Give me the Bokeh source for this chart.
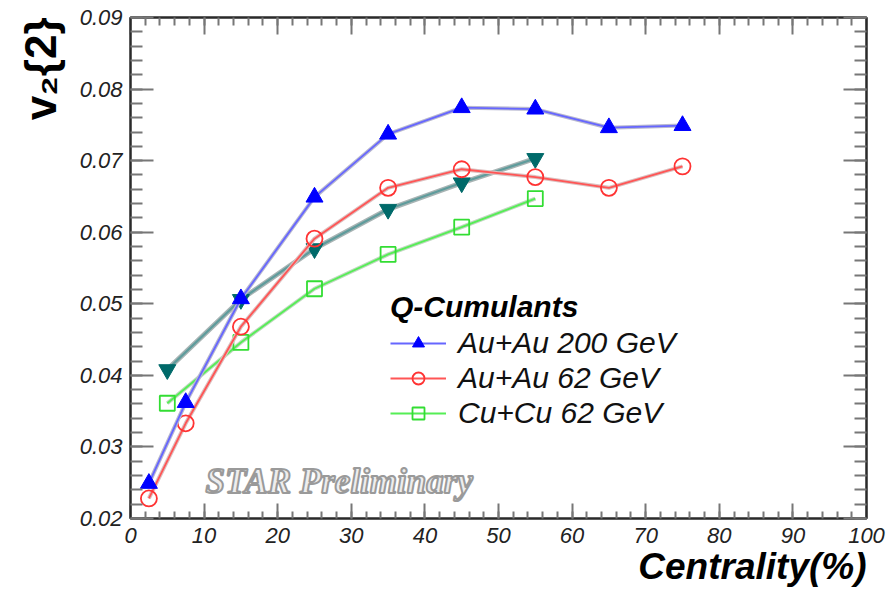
from bokeh.plotting import figure
from bokeh.models import (Range1d, FixedTicker, LinearAxis, Label, Legend, LegendItem,
                          PrintfTickFormatter, CustomJSTickFormatter, Title)
from bokeh.embed import file_html
from bokeh.resources import INLINE

# ---------------- data ----------------
cent_au200 = [2.5, 7.5, 15, 25, 35, 45, 55, 65, 75]
v2_au200 = [0.0249, 0.0362, 0.0507, 0.0649, 0.0737, 0.0774, 0.0772, 0.0746, 0.0749]

cent_au62 = [2.5, 7.5, 15, 25, 35, 45, 55, 65, 75]
v2_au62 = [0.0228, 0.0333, 0.0468, 0.0591, 0.0662, 0.0688, 0.0677, 0.0662, 0.0692]

cent_cu62 = [5, 15, 25, 35, 45, 55]
v2_cu62 = [0.0361, 0.0446, 0.0521, 0.0569, 0.0607, 0.0647]

cent_extra = [5, 15, 25, 35, 45, 55]
v2_extra = [0.0408, 0.0506, 0.0577, 0.0632, 0.0669, 0.0703]

x_major = [0, 10, 20, 30, 40, 50, 60, 70, 80, 90, 100]
x_minor = list(range(0, 101, 2))
y_major = [0.02, 0.03, 0.04, 0.05, 0.06, 0.07, 0.08, 0.09]
y_minor = [round(0.02 + 0.002 * i, 4) for i in range(36)]

labels = ["Au+Au 200 GeV", "Au+Au 62 GeV", "Cu+Cu 62 GeV"]
legend_title = "Q-Cumulants"
x_title = "Centrality(%)"
y_title = "v\u2082{2}"

# ---------------- layout ----------------
W, H = 888, 590
FL, FR, FT, FB = 130, 866, 17, 518
X0, X1, Y0, Y1 = 0, 100, 0.02, 0.09


def dx(px):
    return X0 + (px - FL) * (X1 - X0) / (FR - FL)


def dy(py):
    return Y0 + (FB - py) * (Y1 - Y0) / (FB - FT)


p = figure(width=W, height=H, x_range=Range1d(X0, X1), y_range=Range1d(Y0, Y1),
           output_backend="svg", toolbar_location=None,
           min_border_left=FL, min_border_right=W - FR,
           min_border_top=FT, min_border_bottom=H - FB)
p.background_fill_color = "white"
p.border_fill_color = "white"
p.outline_line_color = "#222222"
p.outline_line_width = 2
p.xgrid.visible = False
p.ygrid.visible = False

FONT = "Liberation Sans"


def style_axis(ax, major_in, minor_in):
    ax.axis_line_color = "#2a2a2a"
    ax.axis_line_width = 2
    ax.major_tick_in = major_in
    ax.major_tick_out = 0
    ax.minor_tick_in = minor_in
    ax.minor_tick_out = 0
    ax.major_tick_line_color = "#777777"
    ax.major_tick_line_width = 2
    ax.minor_tick_line_color = "#777777"
    ax.minor_tick_line_width = 2
    ax.major_label_text_font = FONT
    ax.major_label_text_font_style = "italic"
    ax.major_label_text_font_size = "22px"
    ax.major_label_text_color = "#222222"


xa = p.xaxis[0]
xa.ticker = FixedTicker(ticks=x_major, minor_ticks=x_minor)
style_axis(xa, 15, 7)
xa.major_label_standoff = 9

ya = p.yaxis[0]
ya.ticker = FixedTicker(ticks=y_major, minor_ticks=y_minor)
ya.formatter = PrintfTickFormatter(format="%.2f")
style_axis(ya, 23, 12)
ya.major_label_standoff = 8

blank = CustomJSTickFormatter(code="return ''")
top = LinearAxis(ticker=FixedTicker(ticks=x_major, minor_ticks=x_minor), formatter=blank)
style_axis(top, 17, 8)
top.major_label_text_font_size = "1px"
top.major_label_standoff = 0
p.add_layout(top, "above")

right = LinearAxis(ticker=FixedTicker(ticks=y_major, minor_ticks=y_minor), formatter=blank)
style_axis(right, 23, 12)
right.major_label_text_font_size = "1px"
right.major_label_standoff = 0
p.add_layout(right, "right")

# axis titles (ROOT style: aligned to the axis end)
p.add_layout(Title(text=x_title, align="right", text_font=FONT,
                   text_font_style="bold italic", text_font_size="37px",
                   text_color="black", standoff=-4), "below")
p.add_layout(Title(text=y_title, align="right", text_font=FONT,
                   text_font_style="bold", text_font_size="44px",
                   text_color="black", standoff=24), "left")

# ---------------- series ----------------
# teal inverted triangles (no legend entry)
p.line(cent_extra, v2_extra, line_color="#a8b4b4", line_width=5)
p.line(cent_extra, v2_extra, line_color="#5f9c9c", line_width=2.2)
p.scatter(cent_extra, v2_extra, marker="inverted_triangle", size=17,
          fill_color="#006a6a", line_color="#006a6a")

# green open squares
p.line(cent_cu62, v2_cu62, line_color="#c0d8c0", line_width=4)
l3 = p.line(cent_cu62, v2_cu62, line_color="#55ee55", line_width=1.8)
m3 = p.scatter(cent_cu62, v2_cu62, marker="square", size=15,
               fill_color=None, line_color="#33dd33", line_width=1.8)

# red open circles
p.line(cent_au62, v2_au62, line_color="#dcc0c0", line_width=4)
l2 = p.line(cent_au62, v2_au62, line_color="#ff5555", line_width=1.8)
m2 = p.scatter(cent_au62, v2_au62, marker="circle", size=16,
               fill_color=None, line_color="#ff3333", line_width=1.8)

# blue triangles
p.line(cent_au200, v2_au200, line_color="#b8b8d0", line_width=4)
l1 = p.line(cent_au200, v2_au200, line_color="#6666ff", line_width=1.8)
m1 = p.scatter(cent_au200, v2_au200, marker="triangle", size=17,
               fill_color="#0000ff", line_color="#0000ff")

legend = Legend(items=[LegendItem(label=labels[0], renderers=[l1, m1]),
                       LegendItem(label=labels[1], renderers=[l2, m2]),
                       LegendItem(label=labels[2], renderers=[l3, m3])],
                location=(260, 88), title=legend_title,
                title_text_font=FONT, title_text_font_style="bold italic",
                title_text_font_size="30px", title_text_color="black",
                title_standoff=2,
                label_text_font=FONT, label_text_font_style="italic",
                label_text_font_size="30px", label_text_color="#111111",
                glyph_width=56, glyph_height=30, label_height=30, label_standoff=12,
                spacing=1, padding=0, margin=0,
                border_line_color=None, background_fill_alpha=0)
p.add_layout(legend)

# ---------------- watermark ----------------
star_kw = dict(x=dx(205), y=dy(481), text="STAR Preliminary",
               text_font="Liberation Serif", text_font_style="bold italic",
               text_font_size="35px", text_color="#eeeeee",
               text_align="left", text_baseline="alphabetic")
if "text_outline_color" in Label.properties():
    star_kw["text_outline_color"] = "#9a9a9a"
else:
    star_kw["text_color"] = "#c8c8c8"
p.add_layout(Label(**star_kw))

open("out.html", "w").write(file_html(p, INLINE))
